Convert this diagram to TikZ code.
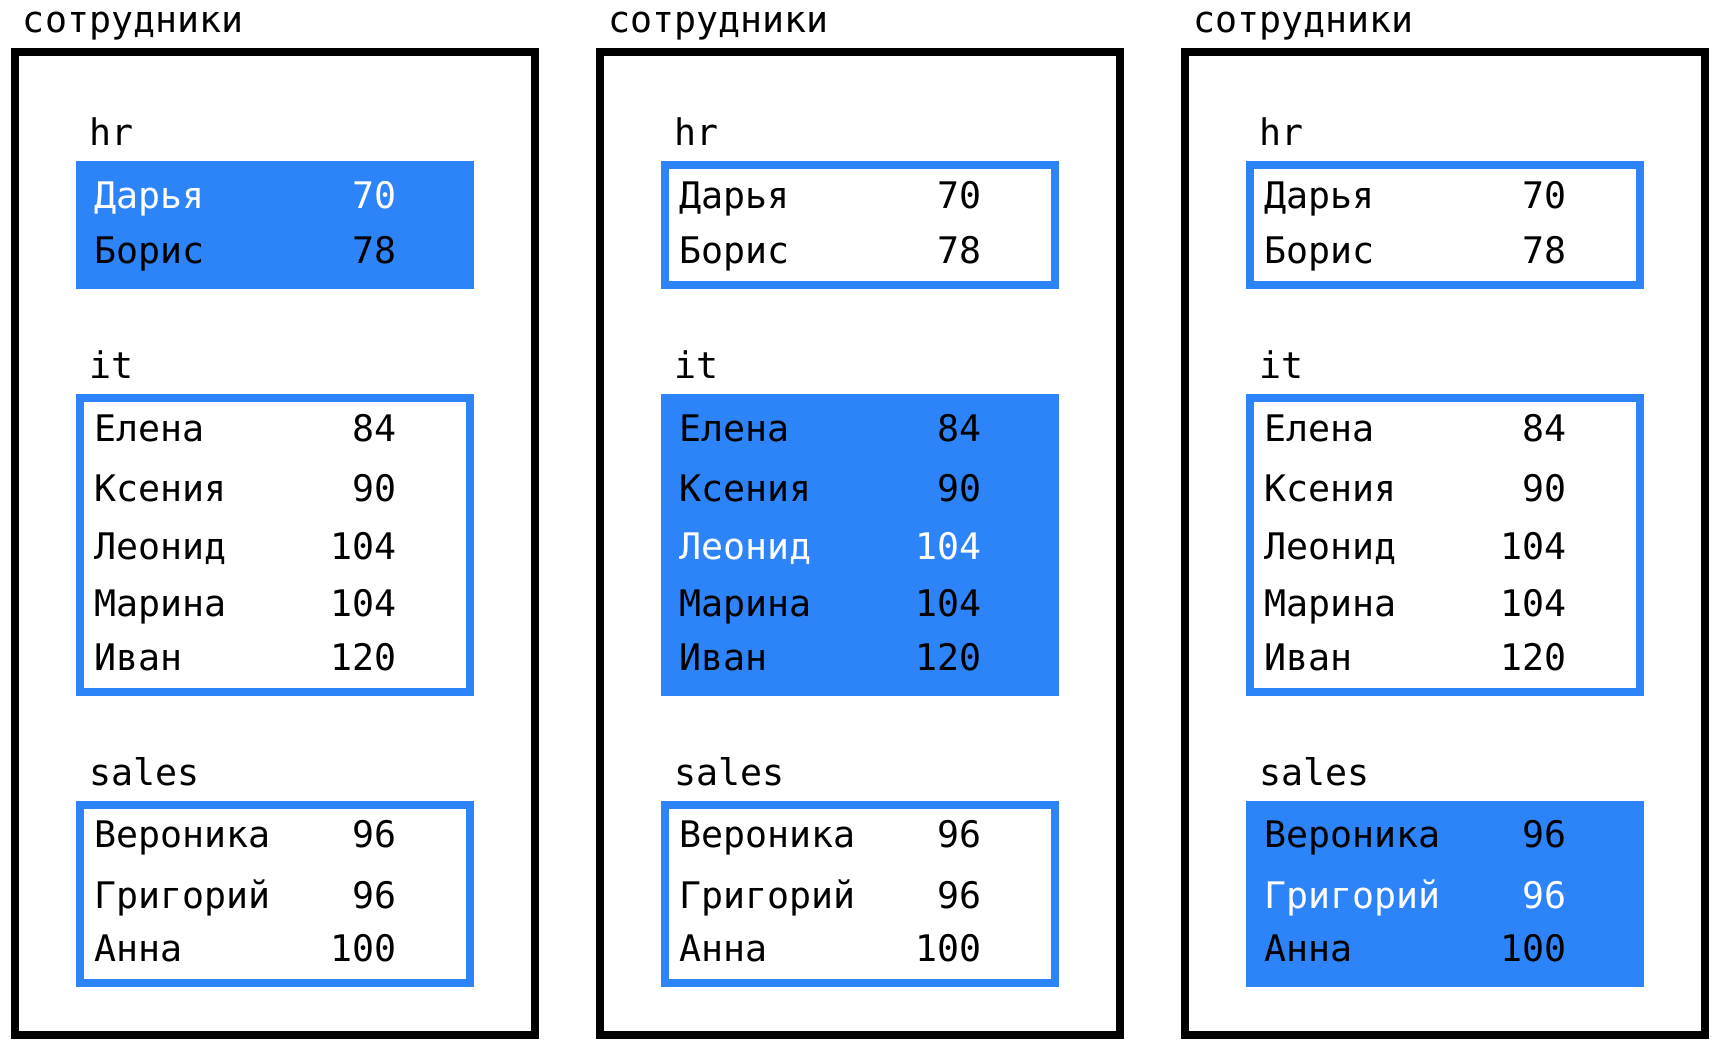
\documentclass[tikz,border=0pt]{standalone}
\usepackage{fontspec}
\setmonofont{DejaVu Sans Mono}
\definecolor{blu}{HTML}{2D84F9}
\begin{document}
\begin{tikzpicture}[x=0.5pt,y=-0.5pt,
  txt/.style={font=\ttfamily\fontsize{18.3pt}{20pt}\selectfont, inner sep=0pt, outer sep=0pt},
  outerbox/.style={draw=black, line width=4pt},
  grpbox/.style={draw=blu, fill=white, line width=4pt},
  grpsel/.style={draw=blu, fill=blu, line width=4pt},
]
\useasboundingbox (0,0) rectangle (1720,1052);
\foreach \k/\sel/\w in {0/1/1,1/2/5,2/3/9} {
  \pgfmathsetmacro\L{11+585*\k}
  \node[txt, anchor=base west] (title\k) at (\L+12,33) {сотрудники};
  \draw[outerbox] (\L+4,52) rectangle (\L+524,1035);
  \foreach \g/\lab/\top/\bot/\lb in {1/hr/165/285/146, 2/it/398/692/379, 3/sales/805/983/786} {
    \ifnum\g=\sel \tikzset{cur/.style={grpsel}}\else\tikzset{cur/.style={grpbox}}\fi
    \draw[cur] (\L+69,\top) rectangle (\L+459,\bot);
    \node[txt, anchor=base west] (lab\k-\g) at (\L+78,\lb) {\lab};
  }
  \foreach \r/\nm/\num/\y in {1/Дарья/70/209, 2/Борис/78/264,
      3/Елена/84/442, 4/Ксения/90/502, 5/Леонид/104/560, 6/Марина/104/617, 7/Иван/120/671,
      8/Вероника/96/848, 9/Григорий/96/909, 10/Анна/100/962} {
    \ifnum\r=\w \tikzset{rc/.style={text=white}}\else\tikzset{rc/.style={text=black}}\fi
    \node[txt, rc, anchor=base west] (name\k-\r) at (\L+83,\y) {\nm};
    \node[txt, rc, anchor=base east] (num\k-\r) at (\L+386,\y) {\num};
  }
}
\end{tikzpicture}
\end{document}
